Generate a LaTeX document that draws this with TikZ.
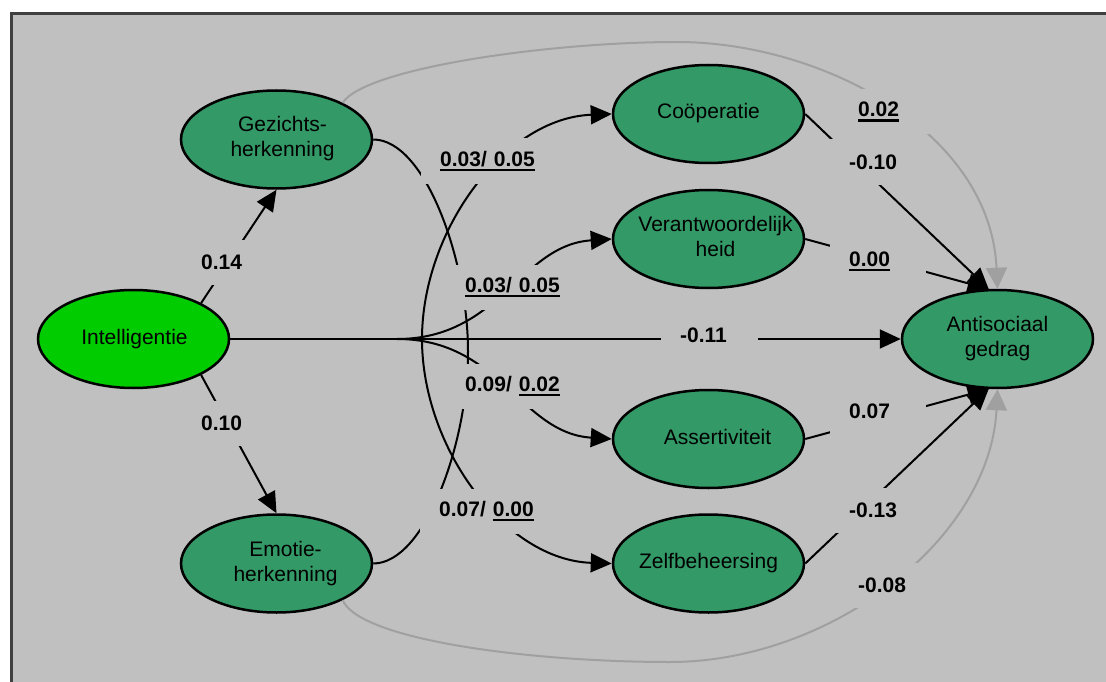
\documentclass[tikz,border=0pt]{standalone}
\usepackage{fontspec}
\setmainfont{Liberation Sans}
\usetikzlibrary{shapes.geometric,arrows.meta}
\definecolor{bgc}{HTML}{C0C0C0}
\definecolor{framec}{HTML}{404040}
\definecolor{greenA}{HTML}{00CC00}
\definecolor{greenB}{HTML}{339966}
\definecolor{grayline}{HTML}{A0A0A0}
\newcommand\ulx[1]{\setbox0\hbox{#1}\rlap{\rule[-5pt]{\wd0}{2.4pt}}\box0}
\newcommand\elltext[2]{\makebox[0pt]{\hspace*{#1}\begin{tabular}{@{}c@{}}#2\end{tabular}}}
\begin{document}
\begin{tikzpicture}[x=1pt,y=-1pt,
  ell/.style={ellipse,draw=black,line width=2.5pt,minimum width=191pt,minimum height=98pt,inner sep=0pt,fill=greenB,font=\fontsize{21}{25}\selectfont},
  arr/.style={line width=2pt,-{Triangle[length=21pt,width=19pt]}},
  plainline/.style={line width=2pt},
  garr/.style={line width=2pt,draw=grayline,-{Triangle[length=21pt,width=21pt]},color=grayline},
  lbl/.style={fill=bgc,inner xsep=19pt,inner ysep=0pt,minimum height=45pt,align=left,anchor=west,font=\fontsize{21}{25}\selectfont\bfseries}]
\useasboundingbox (0,0) rectangle (1106,682);
\fill[white] (0,0) rectangle (1106,682);
\fill[bgc] (11.8,13.8) rectangle (1106,682);
\draw[framec,line width=3pt] (11.8,682) -- (11.8,13.8) -- (1106,13.8);

% nodes
\node[ell,fill=greenA] (intel) at (133.5,339) {\elltext{2pt}{Intelligentie}};
\node[ell] (gez) at (276.5,139.5) {\elltext{12pt}{Gezichts-\\herkenning}};
\node[ell] (emo) at (276.5,563.5) {\elltext{18pt}{Emotie-\\herkenning}};
\node[ell] (coop) at (708.5,114) {\elltext{0pt}{Coöperatie}};
\node[ell] (ver) at (708.5,239) {\elltext{14pt}{Verantwoordelijk\\heid}};
\node[ell] (ass) at (708.5,439) {\elltext{18pt}{Assertiviteit}};
\node[ell] (zelf) at (708.5,563.5) {\elltext{0pt}{Zelfbeheersing}};
\node[ell] (anti) at (997.5,339) {\elltext{0pt}{Antisociaal\\gedrag}};

\coordinate (br) at (422,339);
\coordinate (br2) at (397,339);
\coordinate (am) at (468,351.5);
\coordinate (ga) at (677,42);
\coordinate (gb) at (670,662);

% gray arcs
\draw[garr] (gez.29) .. controls (365,68) and (550,42) .. (ga) .. controls (820,42) and (990,130) .. (anti.north);
\draw[garr] (emo.-29) .. controls (360,640) and (530,662) .. (gb) .. controls (830,662) and (990,540) .. (anti.south);

% intelligence paths
\draw[arr] (intel.28) -- (gez.south);
\draw[arr] (intel.-28) -- (emo.north);
\draw[arr] (intel.east) -- (anti.west);
\draw[arr] (br) .. controls (422,230) and (505,118) .. (coop.west);
\draw[arr] (br) .. controls (422,448) and (505,560) .. (zelf.west);
\draw[arr] (br2) .. controls (500,339) and (520,245) .. (ver.west);
\draw[arr] (br2) .. controls (500,339) and (520,433) .. (ass.west);

% arc between face and emotion recognition
\draw[plainline] (gez.east) .. controls (425,139.5) and (468,260) .. (am) .. controls (468,443) and (425,563.5) .. (emo.east);

% mediators to antisocial behaviour
\draw[arr] (coop.east) -- (anti.100);
\draw[arr] (ver.east) -- (anti.100);
\draw[arr] (ass.east) -- (anti.-100);
\draw[arr] (zelf.east) -- (anti.-100);

% labels
\node[lbl,text width=45pt] (l14) at (182,262) {0.14};
\node[lbl,text width=45pt] (l10) at (182,423) {0.10};
\node[lbl,text width=59pt] (l11) at (661,335) {-0.11};
\node[lbl,text width=101pt] (lA) at (421,161) {\ulx{0.03/ 0.05}};
\node[lbl,text width=96pt] (lB) at (446,287) {\ulx{0.03/ 0.05}};
\node[lbl,text width=96pt] (lC) at (446,386) {0.09/ \ulx{0.02}};
\node[lbl,text width=102pt] (lD) at (420,511) {0.07/ \ulx{0.00}};
\node[lbl,text width=53pt] (l02) at (839,112) {\ulx{0.02}};
\node[lbl,text width=58pt] (l10n) at (830,162) {-0.10};
\node[lbl,text width=58pt] (l00) at (830,261.5) {\ulx{0.00}};
\node[lbl,text width=58pt] (l07) at (830,411.5) {0.07};
\node[lbl,text width=58pt] (l13) at (830,510.5) {-0.13};
\node[lbl,text width=53pt] (l08) at (839,585.5) {-0.08};
\end{tikzpicture}
\end{document}
